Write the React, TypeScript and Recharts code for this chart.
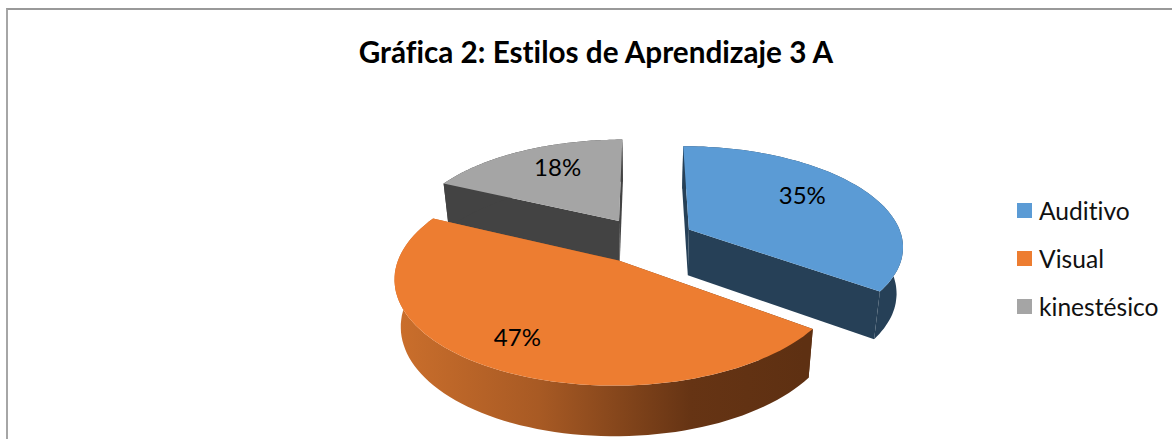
import { PieChart, Pie, Cell, Legend } from "recharts";

// Values
const categories = ["Auditivo", "Visual", "kinestésico"];
const shares = [35, 47, 18];
const topColors = ["#5b9bd5", "#ed7d31", "#a5a5a5"];
const sideColors = ["#264057", "url(#visualSide)", "#434343"];
const labelReach = [0.7, 0.85, 0.6];
const labelNudgeX = [-10, 10, -1];
const labelNudgeY = [-6, -11, -10];

// gray goes first and orange last, so the orange top covers the gray wall
const drawOrder = [2, 0, 1];
const rows = drawOrder.map((i) => ({ name: categories[i], value: shares[i] }));
const firstAngle = 90 + (shares[2] / 100) * 360;

const CX = 645;
const CY = 240;
const RADIUS = 214;
const FLATTEN = 0.463;
const PERSPECTIVE = 0.152;
const EXPLODE = 0.234;
const DEPTH = 46;
const SHRINK = 0.975;
const FONT = "Lato, sans-serif";

const rad = (deg: number) => (deg * Math.PI) / 180;

// disk coordinates (unit radius, v towards the back) to screen
function project(u: number, v: number, cx: number, cy: number, r: number) {
  const w = 1 + PERSPECTIVE * v;
  return { x: cx + (r * u) / w, y: cy - (r * FLATTEN * v) / w };
}

function drop(p: { x: number; y: number }, v: number, cx: number) {
  const w = 1 + 0.5 * PERSPECTIVE * v;
  return { x: cx + (p.x - cx) * SHRINK, y: p.y + DEPTH / w };
}

const toPath = (pts: { x: number; y: number }[]) =>
  "M" + pts.map((p) => `${p.x.toFixed(1)},${p.y.toFixed(1)}`).join("L") + "Z";

function Slice(props: any) {
  const { cx, cy, outerRadius, startAngle, endAngle, name } = props;
  const mid = rad((startAngle + endAngle) / 2);
  const u0 = EXPLODE * Math.cos(mid);
  const v0 = EXPLODE * Math.sin(mid);

  const top: { x: number; y: number }[] = [];
  const low: { x: number; y: number }[] = [];
  const steps = 80;
  for (let i = 0; i <= steps; i++) {
    const a = rad(startAngle + ((endAngle - startAngle) * i) / steps);
    const u = u0 + Math.cos(a);
    const v = v0 + Math.sin(a);
    const p = project(u, v, cx, cy, outerRadius);
    top.push(p);
    low.push(drop(p, v, cx));
  }
  const apex = project(u0, v0, cx, cy, outerRadius);
  const apexLow = drop(apex, v0, cx);
  const side = sideColors[categories.indexOf(name)];
  const faces = [
    [apex, top[0], low[0], apexLow],
    [apex, top[steps], low[steps], apexLow],
    [...top, ...[...low].reverse()],
  ];

  return (
    <g>
      {faces.map((f, i) => (
        <path key={i} d={toPath(f)} fill={side} />
      ))}
      <path d={toPath([apex, ...top])} fill={props.fill} />
    </g>
  );
}

function percentLabel(props: any) {
  const { cx, cy, outerRadius, midAngle, value, name } = props;
  const i = categories.indexOf(name);
  const reach = labelReach[i];
  const m = rad(midAngle);
  const p = project(
    (EXPLODE + reach) * Math.cos(m),
    (EXPLODE + reach) * Math.sin(m),
    cx,
    cy,
    outerRadius
  );
  return (
    <text
      x={p.x + labelNudgeX[i]}
      y={p.y + labelNudgeY[i]}
      textAnchor="middle"
      dominantBaseline="central"
      fontFamily={FONT}
      fontSize={24}
      fill="#000"
    >
      {value}%
    </text>
  );
}

function LegendList() {
  return (
    <div style={{ fontFamily: FONT, fontSize: 24.6, color: "#111", fontVariantLigatures: "none" }}>
      {categories.map((c, i) => (
        <div key={c} style={{ display: "flex", alignItems: "center", height: 48 }}>
          <span
            style={{ width: 15, height: 15, background: topColors[i], marginRight: 7 }}
          />
          {c}
        </div>
      ))}
    </div>
  );
}

export default function App() {
  return (
    <div style={{ position: "absolute", left: 0, top: 0, width: 1172, height: 439, overflow: "hidden", background: "#fff" }}>
      <div
        style={{
          position: "absolute",
          left: 6,
          top: 8,
          right: 0,
          bottom: 0,
          borderTop: "2px solid #999",
          borderLeft: "2px solid #a6a6a6",
        }}
      />
      <PieChart width={1172} height={439} margin={{ top: 0, right: 0, bottom: 0, left: 0 }} style={{ position: "absolute" }}>
        <defs>
          <linearGradient id="visualSide" gradientUnits="userSpaceOnUse" x1="395" y1="0" x2="805" y2="0">
            <stop offset="0" stopColor="#cb6f2c" />
            <stop offset="0.35" stopColor="#a85a24" />
            <stop offset="0.72" stopColor="#663414" />
            <stop offset="1" stopColor="#5e3012" />
          </linearGradient>
        </defs>
        <text
          x={596}
          y={51}
          textAnchor="middle"
          dominantBaseline="central"
          fontFamily={FONT}
          fontWeight={700}
          fontSize={29.7}
          fill="#000"
          style={{ fontVariantLigatures: "none" }}
        >
          Gráfica 2: Estilos de Aprendizaje 3 A
        </text>
        <Pie
          data={rows}
          dataKey="value"
          nameKey="name"
          cx={CX}
          cy={CY}
          outerRadius={RADIUS}
          startAngle={firstAngle}
          endAngle={firstAngle - 360}
          stroke="none"
          shape={Slice}
          label={percentLabel}
          labelLine={false}
          isAnimationActive={false}
        >
          {rows.map((r) => (
            <Cell key={r.name} fill={topColors[categories.indexOf(r.name)]} />
          ))}
        </Pie>
        <Legend
          layout="vertical"
          content={<LegendList />}
          wrapperStyle={{ position: "absolute", left: 1017, top: 186, width: 155 }}
        />
      </PieChart>
    </div>
  );
}
